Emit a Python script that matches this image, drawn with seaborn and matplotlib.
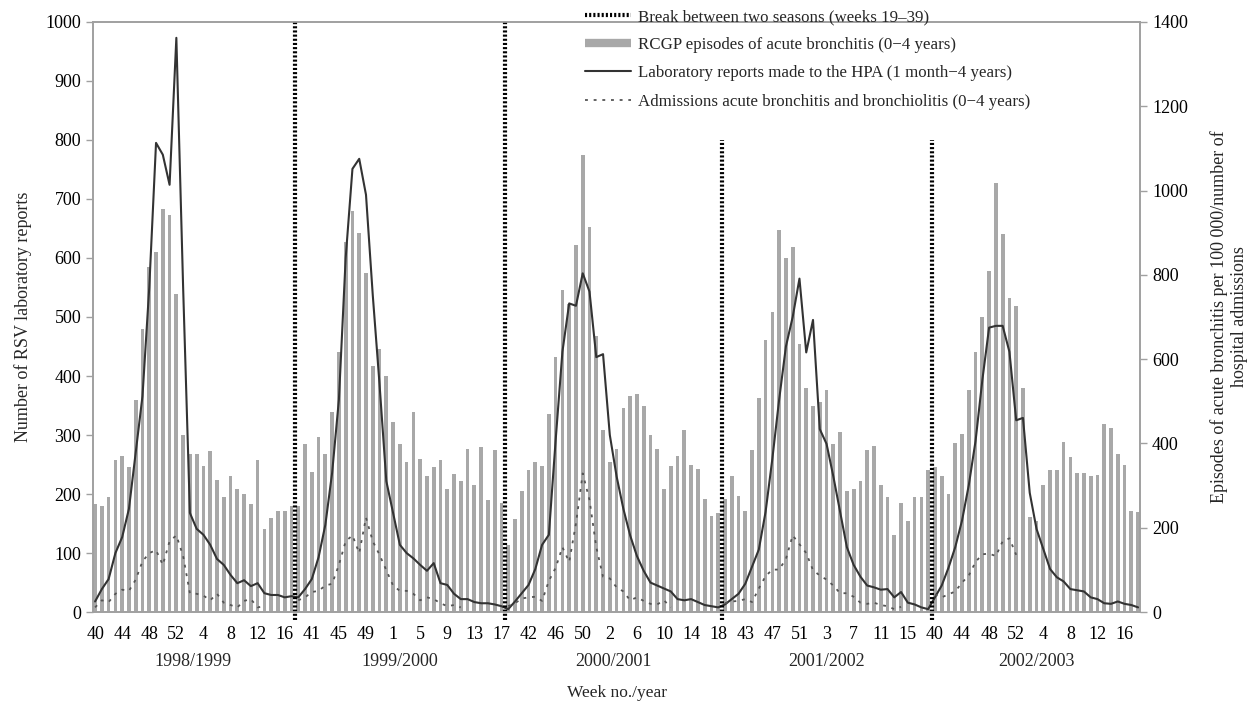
import numpy as np
import pandas as pd
import matplotlib
matplotlib.use("Agg")
import matplotlib.pyplot as plt
from matplotlib.lines import Line2D
import seaborn as sns

# seasons and weeks per season on the category axis
seasons = ["1998/1999", "1999/2000", "2000/2001", "2001/2002", "2002/2003"]
season_weeks = [30, 31, 32, 31, 31]
week_labels = ["40", "44", "48", "52", "4", "8", "12", "16",
               "41", "45", "49", "1", "5", "9", "13", "17",
               "42", "46", "50", "2", "6", "10", "14", "18",
               "43", "47", "51", "3", "7", "11", "15",
               "40", "44", "48", "52", "4", "8", "12", "16"]

# RCGP episodes of acute bronchitis per 100 000 (right axis)
rcgp = [256, 251, 272, 361, 370, 343, 503, 672, 819, 855, 955, 942, 755, 420, 374,
        374, 347, 381, 314, 272, 323, 291, 279, 256, 360, 196, 224, 241, 241, 251,
        252, 398, 332, 416, 374, 475, 617, 879, 952, 899, 804, 584, 624, 560, 451,
        398, 356, 475, 364, 322, 343, 361, 291, 328, 312, 386, 302, 391, 265, 385, 259,
        160, 221, 288, 336, 356, 347, 469, 605, 763, 732, 871, 1085, 913, 655, 431,
        356, 388, 483, 512, 518, 489, 421, 388, 293, 346, 370, 431, 350, 340, 269, 227, 235,
        269, 322, 276, 241, 384, 508, 645, 711, 906, 841, 865, 637, 532, 489, 498,
        526, 398, 427, 288, 293, 312, 384, 393, 302, 274, 183, 259, 217, 274, 274, 336,
        343, 322, 280, 400, 422, 527, 617, 700, 808, 1018, 896, 746, 727, 531, 226,
        217, 302, 336, 336, 403, 369, 331, 331, 322, 326, 446, 436, 374, 350, 240, 238]

# RSV laboratory reports (left axis)
lab = [18, 39, 56, 100, 127, 175, 270, 366, 550, 795, 775, 724, 973, 550, 168,
       141, 131, 114, 90, 80, 63, 49, 54, 44, 49, 32, 29, 29, 25, 27,
       25, 39, 56, 93, 148, 236, 360, 600, 751, 768, 707, 537, 386, 222, 168,
       114, 100, 91, 80, 70, 83, 49, 46, 31, 22, 22, 17, 15, 15, 13, 10,
       5, 18, 32, 46, 73, 114, 131, 291, 441, 523, 519, 574, 543, 432, 437,
       300, 230, 175, 130, 95, 70, 50, 45, 40, 35, 22, 20, 22, 17, 12, 10, 8,
       13, 22, 31, 48, 77, 106, 170, 260, 360, 450, 500, 565, 440, 495, 310,
       285, 230, 170, 110, 80, 60, 45, 42, 38, 39, 25, 34, 16, 13, 8, 5,
       25, 45, 75, 110, 155, 215, 290, 393, 482, 485, 485, 441, 325, 329, 202,
       141, 107, 73, 59, 52, 39, 37, 35, 25, 22, 15, 14, 18, 14, 12, 8]

# admissions acute bronchitis and bronchiolitis (left axis)
nan = np.nan
admissions = [8, 20, 17, 31, 38, 36, 55, 86, 100, 105, 80, 120, 130, 95, 32,
              31, 28, 20, 31, 16, 12, 8, 19, 22, 8, 10, nan, nan, nan, nan,
              20, 25, 34, 36, 45, 48, 80, 120, 130, 100, 160, 120, 97, 71, 45,
              36, 36, 31, 20, 25, 22, 15, 10, 12, 8, nan, nan, nan, nan, nan, nan,
              10, 15, 23, 25, 26, 19, 53, 75, 110, 85, 150, 235, 190, 110, 60,
              57, 42, 35, 20, 25, 19, 14, 13, 20, 8, nan, nan, nan, nan, nan, nan, nan,
              15, 18, 19, 22, 17, 40, 61, 72, 72, 90, 130, 115, 100, 71, 62,
              55, 45, 32, 32, 26, 16, 14, 16, 12, 10, 5, 9, nan, nan, nan, nan,
              30, 25, 30, 35, 50, 62, 85, 98, 99, 95, 120, 125, 97, nan, nan,
              nan, nan, nan, nan, nan, nan, nan, nan, nan, nan, nan, nan, nan, nan, nan, nan]

n = sum(season_weeks)
df = pd.DataFrame({"pos": np.arange(n), "rcgp": rcgp, "lab": lab, "adm": admissions})

sns.set_theme(style="white")
plt.rcParams["font.family"] = ["Liberation Serif", "DejaVu Serif"]
plt.rcParams["font.size"] = 12

grey = "#a0a0a0"
fig = plt.figure(figsize=(12.54, 7.06), dpi=100)
ax = fig.add_axes([0.0742, 0.133, 0.835, 0.836])
ax2 = ax.twinx()

sns.barplot(data=df, x="pos", y="rcgp", native_scale=True, width=0.55,
            color="#a8a8a8", saturation=1, edgecolor="none", ax=ax2)
sns.lineplot(data=df, x="pos", y="lab", color="#333333", linewidth=1.5, ax=ax)
ax.plot(df["pos"], df["adm"], color="#555555", linewidth=1.3, linestyle=(0, (1.6, 3.2)))

ax.set_zorder(ax2.get_zorder() + 1)
ax.patch.set_visible(False)

# season breaks
ends = np.cumsum(season_weeks)[:-1] - 0.5
tops = [1.0, 1.0, 0.8, 0.8]
for xb, tp in zip(ends, tops):
    ax.axvline(xb, ymin=-0.014, ymax=tp, color="black", linewidth=3,
               linestyle=(0, (0.5, 0.5)), clip_on=False)

ax.set_xlim(-0.3, n - 0.7)
ax.set_ylim(0, 1000)
ax2.set_ylim(0, 1400)
ax.set_yticks(np.arange(0, 1001, 100))
ax2.set_yticks(np.arange(0, 1401, 200))
ax.set_xticks(np.arange(0, n, 4))
ax.set_xticklabels(week_labels)

for a in (ax, ax2):
    for s in a.spines.values():
        s.set_color(grey)
        s.set_linewidth(1.2)
    a.tick_params(axis="both", colors=grey, labelcolor="black", labelsize=13,
                  direction="out", length=5, width=1)
ax.tick_params(axis="x", pad=5)

ax.set_xlabel("Week no./year", fontsize=12.5, labelpad=30)
ax.set_ylabel("Number of RSV laboratory reports", fontsize=13, labelpad=10)
ax2.set_ylabel("Episodes of acute bronchitis per 100 000/number of\nhospital admissions",
               fontsize=13, labelpad=16)
ax2.set_xlabel("")

starts = np.concatenate([[0], np.cumsum(season_weeks)[:-1]])
for name, st, w in zip(seasons, starts, season_weeks):
    ax.text(st + (w - 1) / 2, -0.083, name, transform=ax.get_xaxis_transform(),
            ha="center", va="center", fontsize=13)

handles = [
    Line2D([], [], color="black", linewidth=3, linestyle=(0, (0.5, 0.5))),
    Line2D([], [], color="#a8a8a8", linewidth=6, solid_capstyle="butt"),
    Line2D([], [], color="#333333", linewidth=1.5),
    Line2D([], [], color="#555555", linewidth=1.3, linestyle=(0, (1.6, 3.2))),
]
labels = ["Break between two seasons (weeks 19\u201339)",
          "RCGP episodes of acute bronchitis (0\u22124 years)",
          "Laboratory reports made to the HPA (1 month\u22124 years)",
          "Admissions acute bronchitis and bronchiolitis (0\u22124 years)"]
ax.legend(handles, labels, loc="upper left", bbox_to_anchor=(0.47, 1.022),
          frameon=False, fontsize=12.2, handlelength=2.7, handletextpad=0.4,
          labelspacing=0.72, borderpad=0, borderaxespad=0)

fig.savefig("out.png", dpi=100)
